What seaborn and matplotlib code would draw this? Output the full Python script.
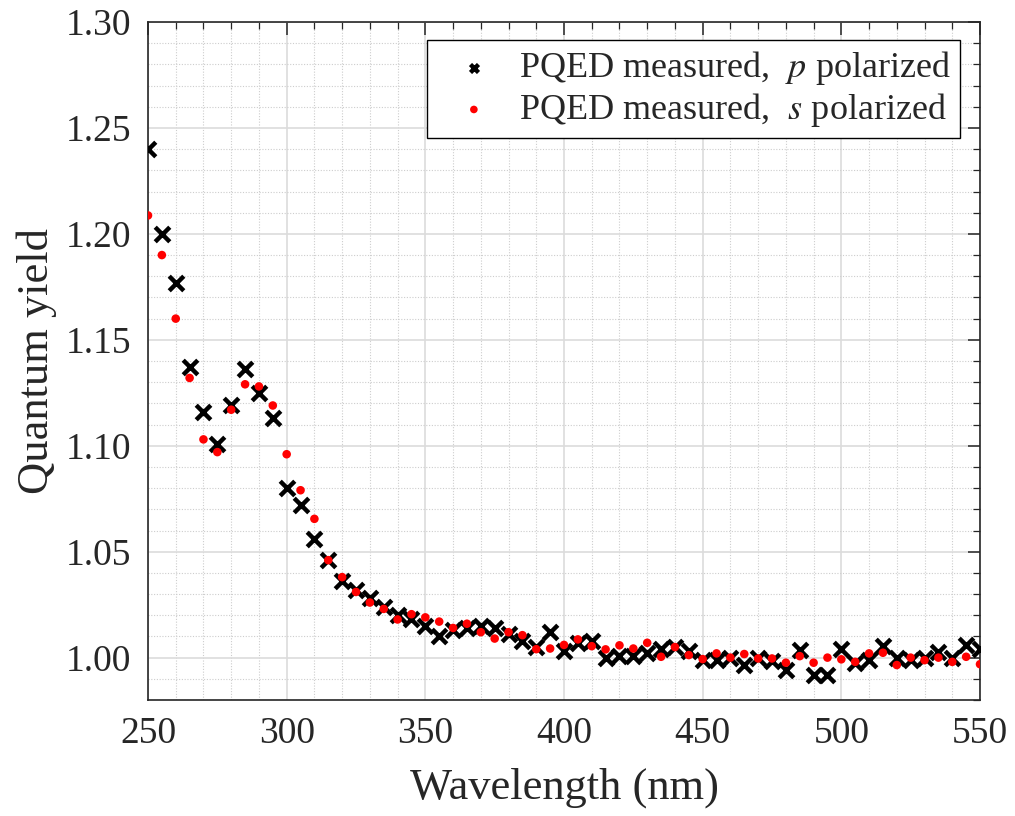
import numpy as np
import pandas as pd
import matplotlib
matplotlib.use("Agg")
import matplotlib.pyplot as plt
from matplotlib.ticker import MultipleLocator, FormatStrFormatter
import seaborn as sns

wavelength = list(range(250, 551, 5))

qy_p = [1.240, 1.200, 1.177, 1.137, 1.116, 1.101, 1.119, 1.136, 1.125, 1.113,
        1.080, 1.072, 1.056, 1.046, 1.036, 1.032, 1.028, 1.024, 1.020, 1.018,
        1.015, 1.010, 1.013, 1.014, 1.015, 1.014, 1.011, 1.008, 1.005, 1.012,
        1.003, 1.007, 1.008, 0.9996, 1.001, 1.001, 1.002, 1.004, 1.005, 1.003,
        0.999, 0.999, 0.9996, 0.9965, 0.9996, 0.9985, 0.994, 1.0035, 0.992, 0.992,
        1.0043, 0.9973, 0.999, 1.0054, 1.000, 0.9988, 1.000, 1.0027, 1.000, 1.0059,
        1.0039]

qy_s = [1.2087, 1.190, 1.160, 1.132, 1.103, 1.097, 1.117, 1.129, 1.128, 1.119,
        1.096, 1.079, 1.0655, 1.046, 1.038, 1.031, 1.026, 1.023, 1.018, 1.0205,
        1.019, 1.017, 1.014, 1.016, 1.012, 1.009, 1.012, 1.0106, 1.004, 1.0043,
        1.006, 1.0086, 1.0054, 1.0039, 1.0058, 1.0043, 1.007, 1.0004, 1.005, 1.0012,
        0.9993, 1.002, 1.000, 1.0017, 0.9996, 0.9996, 0.9976, 1.0007, 0.9976, 1.000,
        0.9992, 0.998, 1.002, 1.0023, 0.9965, 1.000, 0.9988, 1.000, 0.998, 1.0004,
        0.9969]

label_p = "PQED measured,  $p$ polarized"
label_s = "PQED measured,  $s$ polarized"

df = pd.DataFrame({"wl": wavelength, "p": qy_p, "s": qy_s})

sns.set_theme(style="white")
plt.rcParams["font.family"] = ["Liberation Serif", "DejaVu Serif"]
plt.rcParams["mathtext.fontset"] = "stix"

fig = plt.figure(figsize=(10.15, 8.16), dpi=100)
ax = fig.add_axes([148/1015, 1-700/816, (980-148)/1015, (700-22)/816])

sns.scatterplot(data=df, x="wl", y="p", marker="x", color="black", s=110,
                linewidth=3.2, ax=ax, label=label_p, zorder=3)
sns.scatterplot(data=df, x="wl", y="s", marker="o", color="red", s=38,
                edgecolor="none", ax=ax, label=label_s, zorder=4)

ax.set_xlim(250, 550)
ax.set_ylim(0.98, 1.30)
ax.xaxis.set_major_locator(MultipleLocator(50))
ax.xaxis.set_minor_locator(MultipleLocator(10))
ax.yaxis.set_major_locator(MultipleLocator(0.05))
ax.yaxis.set_minor_locator(MultipleLocator(0.01))
ax.yaxis.set_major_formatter(FormatStrFormatter("%.2f"))

ax.grid(which="major", color="#dcdcdc", linewidth=1.2, linestyle="-")
ax.grid(which="minor", color="#cdcdcd", linewidth=0.8, linestyle=(0, (1, 1.5)))
ax.set_axisbelow(True)

tc = "#262626"
for sp in ax.spines.values():
    sp.set_color(tc)
    sp.set_linewidth(1.2)
ax.tick_params(which="both", direction="in", top=True, right=True, colors=tc,
               labelsize=27, pad=12)
ax.tick_params(which="major", length=9, width=1.1)
ax.tick_params(which="minor", length=5, width=0.9)
for lab in ax.get_xticklabels() + ax.get_yticklabels():
    lab.set_color(tc)

ax.set_xlabel("Wavelength (nm)", fontsize=32, color=tc, labelpad=12)
ax.set_ylabel("Quantum yield", fontsize=32, color=tc, labelpad=6)

leg = ax.legend(loc="upper right", bbox_to_anchor=(0.976, 0.973), fontsize=26,
                frameon=True, fancybox=False, edgecolor="black", framealpha=1,
                handletextpad=0.2, borderpad=0.25, labelspacing=0.1,
                handlelength=2.1, borderaxespad=0, markerscale=0.55)
leg.get_frame().set_linewidth(1.0)
handles = leg.legend_handles
handles[1].set_sizes([30])

fig.savefig("out.png", dpi=100, facecolor="white")
